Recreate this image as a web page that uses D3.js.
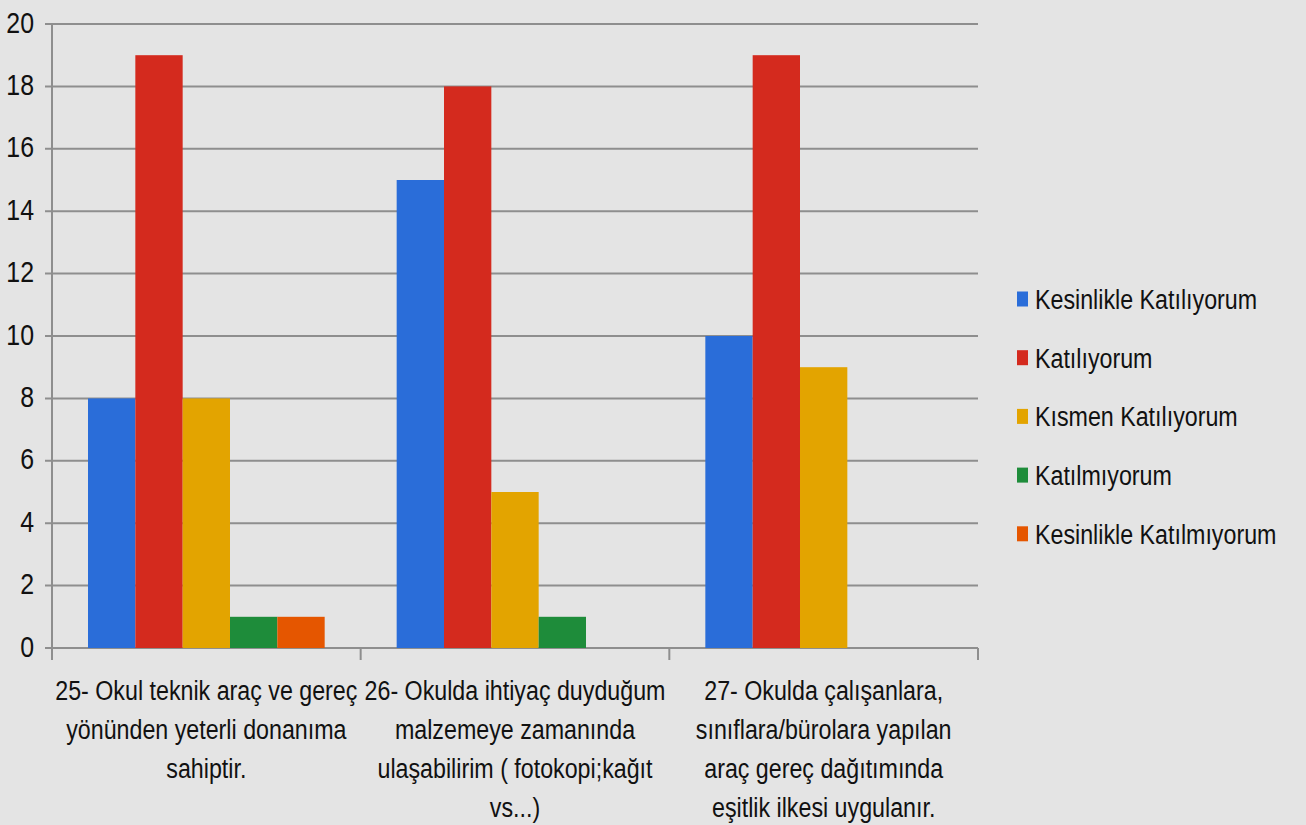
<!DOCTYPE html>
<html>
<head>
<meta charset="utf-8">
<script src="https://cdn.jsdelivr.net/npm/d3@7"></script>
<style>
  body { margin: 0; background: #e4e4e4; }
  svg { display: block; font-family: "Liberation Sans", Arial, sans-serif; }
</style>
</head>
<body>
<div id="chart"></div>
<script>
const categories = [
    ["25- Okul teknik araç ve gereç", "yönünden yeterli donanıma", "sahiptir."],
    ["26- Okulda ihtiyaç duyduğum", "malzemeye zamanında", "ulaşabilirim ( fotokopi;kağıt", "vs...)"],
    ["27- Okulda çalışanlara,", "sınıflara/bürolara yapılan", "araç gereç dağıtımında", "eşitlik ilkesi uygulanır."]
];
const seriesNames = ["Kesinlikle Katılıyorum", "Katılıyorum", "Kısmen Katılıyorum", "Katılmıyorum", "Kesinlikle Katılmıyorum"];
const kesinlikleKatiliyorum = [8, 15, 10];
const katiliyorum = [19, 18, 19];
const kismenKatiliyorum = [8, 5, 9];
const katilmiyorum = [1, 1, 0];
const kesinlikleKatilmiyorum = [1, 0, 0];
const colors = ["#2a6dd9", "#d42a1e", "#e3a400", "#1e8c3a", "#e55600"];
const yTicks = [0, 2, 4, 6, 8, 10, 12, 14, 16, 18, 20];

const seriesValues = [kesinlikleKatiliyorum, katiliyorum, kismenKatiliyorum, katilmiyorum, kesinlikleKatilmiyorum];

const width = 1306, height = 825;
const plotLeft = 52, plotRight = 978, plotTop = 24, plotBottom = 648;
const squeeze = 0.83; // the original uses a narrow face

const svg = d3.select("#chart").append("svg")
    .attr("width", width)
    .attr("height", height);

const x0 = d3.scaleBand()
    .domain(d3.range(categories.length))
    .range([plotLeft, plotRight]);

const x1 = d3.scaleBand()
    .domain(d3.range(seriesNames.length))
    .range([36, x0.bandwidth() - 36]);

const y = d3.scaleLinear()
    .domain([0, 20])
    .range([plotBottom, plotTop]);

const color = d3.scaleOrdinal().domain(seriesNames).range(colors);

// gridlines + y ticks
svg.append("g").selectAll("line")
    .data(yTicks)
    .enter().append("line")
    .attr("x1", plotLeft - 7)
    .attr("x2", plotRight)
    .attr("y1", d => y(d))
    .attr("y2", d => y(d))
    .attr("stroke", "#8e8e8e")
    .attr("stroke-width", 2);

svg.append("g").selectAll("text")
    .data(yTicks)
    .enter().append("text")
    .attr("transform", d => `translate(34,${y(d) - 2}) scale(${squeeze},1)`)
    .attr("dy", "0.35em")
    .attr("text-anchor", "end")
    .attr("font-size", "30px")
    .attr("fill", "#111")
    .text(d => d);

// y axis line
svg.append("line")
    .attr("x1", plotLeft).attr("x2", plotLeft)
    .attr("y1", plotTop).attr("y2", plotBottom + 12)
    .attr("stroke", "#8e8e8e")
    .attr("stroke-width", 2);

// category ticks
svg.append("g").selectAll("line")
    .data(d3.range(1, categories.length + 1))
    .enter().append("line")
    .attr("x1", d => x0(d - 1) + x0.bandwidth())
    .attr("x2", d => x0(d - 1) + x0.bandwidth())
    .attr("y1", plotBottom)
    .attr("y2", plotBottom + 12)
    .attr("stroke", "#8e8e8e")
    .attr("stroke-width", 2);

// bars
const groups = svg.append("g").selectAll("g")
    .data(categories)
    .enter().append("g")
    .attr("transform", (d, i) => `translate(${x0(i)},0)`);

groups.selectAll("rect")
    .data((d, i) => seriesValues.map((vals, s) => ({ s, v: vals[i] })).filter(e => e.v > 0))
    .enter().append("rect")
    .attr("x", d => x1(d.s))
    .attr("y", d => y(d.v))
    .attr("width", x1.bandwidth())
    .attr("height", d => y(0) - y(d.v))
    .attr("fill", d => color(seriesNames[d.s]));

// category labels
const labels = svg.append("g").selectAll("text")
    .data(categories)
    .enter().append("text")
    .attr("text-anchor", "middle")
    .attr("font-size", "28px")
    .attr("fill", "#111")
    .attr("transform", (d, i) => `translate(${x0(i) + x0.bandwidth() / 2},700) scale(${squeeze},1)`);

labels.selectAll("tspan")
    .data(d => d)
    .enter().append("tspan")
    .attr("x", 0)
    .attr("y", (d, i) => i * 39)
    .text(d => d);

// legend
const legend = svg.append("g")
    .attr("transform", "translate(1017,299)");

const legendG = legend.selectAll("g")
    .data(seriesNames)
    .enter().append("g")
    .attr("transform", (d, i) => `translate(0,${i * 58.7})`);

legendG.append("rect")
    .attr("x", 0)
    .attr("y", -7.5)
    .attr("width", 11)
    .attr("height", 15)
    .attr("fill", d => color(d));

legendG.append("text")
    .attr("transform", `translate(18,0) scale(${squeeze},1)`)
    .attr("dy", "0.36em")
    .attr("font-size", "28px")
    .attr("fill", "#111")
    .text(d => d);
</script>
</body>
</html>
